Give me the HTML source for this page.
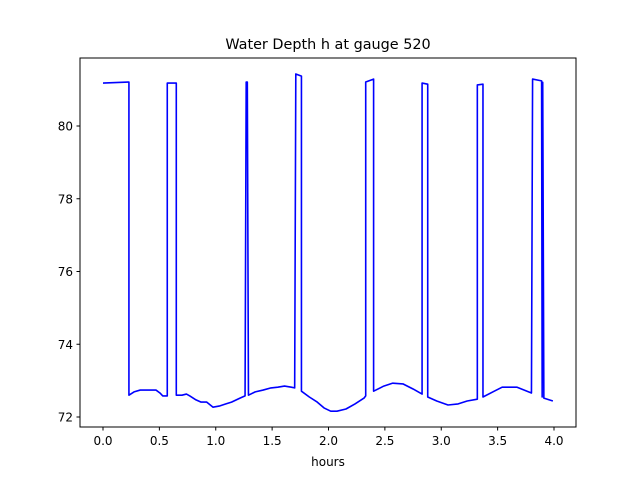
<!DOCTYPE html>
<html><head><meta charset="utf-8"><style>
body{margin:0;background:#fff;}
svg text{font-family:"DejaVu Sans","Liberation Sans",sans-serif;}
</style></head><body>
<svg width="640" height="480" xmlns="http://www.w3.org/2000/svg">
<rect width="640" height="480" fill="#fff"/>
<text x="328" y="49" font-size="14.4" text-anchor="middle">Water Depth h at gauge 520</text>
<g id="plot"></g>
<rect x="80" y="58" width="496" height="369" fill="none" stroke="#000" stroke-width="1"/>
<text x="328" y="466" font-size="12" text-anchor="middle">hours</text>
</svg>
<script>
const tVals=[0.0,0.23,0.23,0.275,0.33,0.40,0.47,0.505,0.53,0.57,0.57,0.65,0.65,0.70,0.74,0.77,0.825,0.87,0.92,0.975,1.03,1.09,1.14,1.215,1.26,1.27,1.28,1.29,1.35,1.42,1.49,1.55,1.61,1.67,1.70,1.71,1.76,1.76,1.83,1.90,1.96,2.02,2.075,2.155,2.235,2.315,2.33,2.33,2.40,2.40,2.49,2.57,2.66,2.75,2.83,2.83,2.88,2.88,2.96,3.06,3.15,3.23,3.32,3.32,3.37,3.37,3.47,3.54,3.67,3.80,3.81,3.89,3.895,3.90,3.91,3.99];
const hVals=[81.18,81.21,72.60,72.69,72.74,72.74,72.74,72.66,72.58,72.58,81.18,81.18,72.60,72.60,72.63,72.58,72.47,72.41,72.41,72.27,72.30,72.36,72.41,72.52,72.58,81.21,81.21,72.60,72.69,72.74,72.80,72.82,72.85,72.82,72.80,81.43,81.37,72.71,72.55,72.41,72.25,72.16,72.16,72.22,72.36,72.52,72.58,81.21,81.29,72.71,72.85,72.93,72.91,72.77,72.63,81.18,81.15,72.55,72.44,72.33,72.36,72.44,72.49,81.13,81.15,72.55,72.71,72.82,72.82,72.66,81.29,81.24,72.55,81.20,72.52,72.44];
const xTicks=[0,0.5,1.0,1.5,2.0,2.5,3.0,3.5,4.0];
const yTicks=[72,74,76,78,80];
const xLabels=["0.0","0.5","1.0","1.5","2.0","2.5","3.0","3.5","4.0"];
const yLabels=["72","74","76","78","80"];
const xs=t=>103+t*112.75;
const ys=h=>417-(h-72)*36.375;
const NS="http://www.w3.org/2000/svg";
const svg=document.querySelector('svg');
const g=document.getElementById('plot');
let d='';
for(let i=0;i<tVals.length;i++){d+=(i?'L':'M')+xs(tVals[i]).toFixed(2)+','+ys(hVals[i]).toFixed(2);}
const p=document.createElementNS(NS,'path');
p.setAttribute('d',d);p.setAttribute('fill','none');p.setAttribute('stroke','#0000ff');p.setAttribute('stroke-width','1.6');p.setAttribute('stroke-linejoin','round');


g.appendChild(p);
xTicks.forEach((v,i)=>{
  const l=document.createElementNS(NS,'line');
  l.setAttribute('x1',xs(v));l.setAttribute('x2',xs(v));l.setAttribute('y1',427);l.setAttribute('y2',430.5);l.setAttribute('stroke','#000');
  
  
  svg.appendChild(l);
  const t=document.createElementNS(NS,'text');
  t.setAttribute('x',xs(v));t.setAttribute('y',445);t.setAttribute('font-size','12');t.setAttribute('text-anchor','middle');t.textContent=xLabels[i];
  
  
  svg.appendChild(t);
});
yTicks.forEach((v,i)=>{
  const l=document.createElementNS(NS,'line');
  l.setAttribute('x1',76.5);l.setAttribute('x2',80);l.setAttribute('y1',ys(v));l.setAttribute('y2',ys(v));l.setAttribute('stroke','#000');
  
  
  svg.appendChild(l);
  const t=document.createElementNS(NS,'text');
  t.setAttribute('x',73);t.setAttribute('y',ys(v)+4.5);t.setAttribute('font-size','12');t.setAttribute('text-anchor','end');t.textContent=yLabels[i];
  
  
  svg.appendChild(t);
});
</script>
</body></html>
